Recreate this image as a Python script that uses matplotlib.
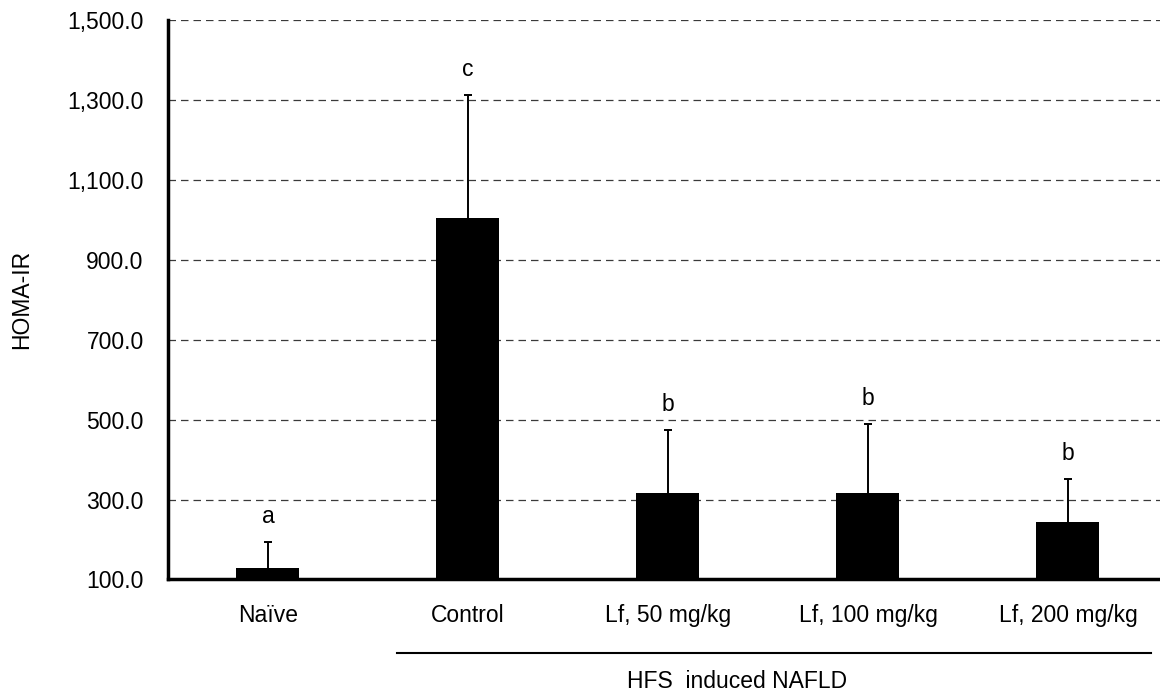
import matplotlib
matplotlib.use("Agg")
import matplotlib.pyplot as plt
import matplotlib.transforms as mtransforms
from matplotlib.ticker import FuncFormatter

groups = ["Naïve", "Control", "Lf, 50 mg/kg", "Lf, 100 mg/kg", "Lf, 200 mg/kg"]
means = [128, 1005, 317, 316, 243]
errors = [65, 307, 158, 172, 109]
letters = ["a", "c", "b", "b", "b"]
y_ticks = [100, 300, 500, 700, 900, 1100, 1300, 1500]

plt.rcParams["font.family"] = ["Liberation Sans", "DejaVu Sans"]
FS = 16.5

fig = plt.figure(figsize=(11.6, 6.93), dpi=100)
ax = fig.add_axes([0.1448, 0.1638, 0.8552, 0.8073])

x = list(range(len(groups)))
tops = [m + e for m, e in zip(means, errors)]
ax.bar(x, means, width=0.315, color="black", zorder=3)
# upper error only, cap on top
ax.vlines(x, means, tops, color="black", linewidth=1.4, zorder=4)
ax.hlines(tops, [xi - 0.022 for xi in x], [xi + 0.022 for xi in x],
          color="black", linewidth=1.4, zorder=4)

for xi, t, l in zip(x, tops, letters):
    ax.text(xi, t + 64, l, ha="center", va="center", fontsize=FS)

ax.set_xlim(-0.5, 4.46)
ax.set_ylim(100, 1500)
ax.set_yticks(y_ticks)
ax.yaxis.set_major_formatter(FuncFormatter(lambda v, p: f"{v:,.1f}"))
ax.set_xticks(x)
ax.set_xticklabels(groups, fontsize=FS)
ax.tick_params(axis="y", labelsize=FS, length=0, pad=17.5)
ax.tick_params(axis="x", length=0, pad=18)
ax.grid(axis="y", linestyle=(0, (6, 4)), color="#3a3a3a", linewidth=0.9, zorder=0)

for s in ["top", "right"]:
    ax.spines[s].set_visible(False)
ax.spines["left"].set_linewidth(2.5)
ax.spines["bottom"].set_linewidth(2.5)

ax.set_ylabel("HOMA-IR", fontsize=FS)
ax.yaxis.set_label_coords(-0.136, 0.5)

trans = mtransforms.blended_transform_factory(ax.transData, fig.transFigure)
ax.plot([0.645, 4.415], [0.0577, 0.0577], color="black", linewidth=1.5,
        transform=trans, clip_on=False)
ax.text(2.345, 0.0159, "HFS  induced NAFLD", ha="center", va="center",
        fontsize=FS, transform=trans)

fig.savefig("out.png", dpi=100)
